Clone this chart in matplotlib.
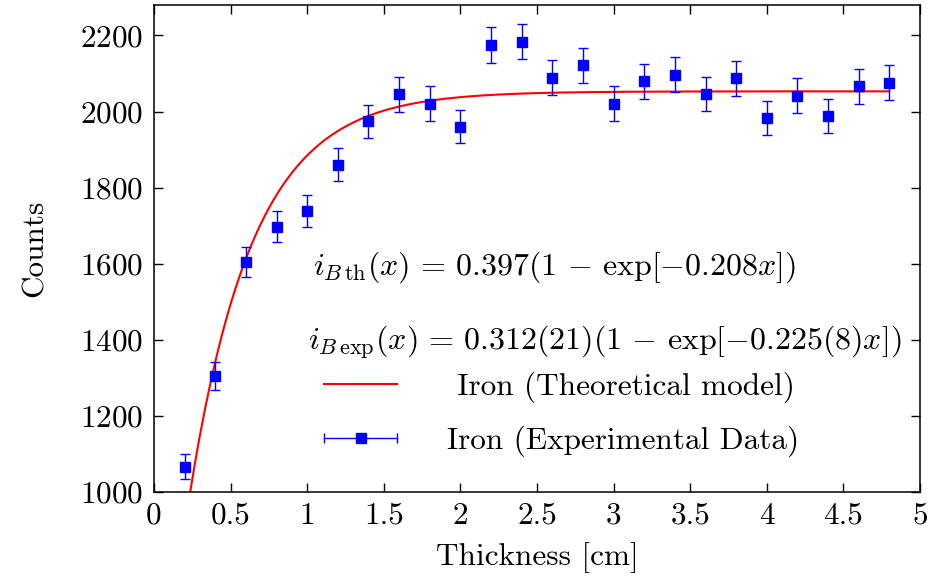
import numpy as np
import matplotlib
matplotlib.use("Agg")
import matplotlib.pyplot as plt
from matplotlib.lines import Line2D
from matplotlib.legend_handler import HandlerLine2D, HandlerTuple

plt.rcParams["font.family"] = ["cmr10", "DejaVu Serif"]
plt.rcParams["mathtext.fontset"] = "cm"
plt.rcParams["axes.formatter.use_mathtext"] = True

# measured data (Iron)
thickness = [0.2, 0.4, 0.6, 0.8, 1.0, 1.2, 1.4, 1.6, 1.8, 2.0, 2.2, 2.4,
             2.6, 2.8, 3.0, 3.2, 3.4, 3.6, 3.8, 4.0, 4.2, 4.4, 4.6, 4.8]
counts = [1066, 1305, 1605, 1697, 1739, 1860, 1974, 2045, 2021, 1960, 2174, 2184,
          2089, 2121, 2021, 2079, 2097, 2047, 2087, 1982, 2042, 1989, 2066, 2076]
count_err = [33, 36, 40, 41, 42, 43, 44, 45, 45, 44, 47, 47,
             46, 46, 45, 46, 46, 45, 46, 45, 45, 45, 45, 46]

# theoretical model parameters (saturation, amplitude, attenuation)
model_sat = 2053
model_amp = 1857
model_k = 2.4

eq_th = r"$i_{B\,\mathrm{th}}(x)\,=\,0.397(1\,-\,\exp[-0.208x])$"
eq_exp = r"$i_{B\,\mathrm{exp}}(x)\,=\,0.312(21)(1\,-\,\exp[-0.225(8)x])$"

FS = 22.5

fig = plt.figure(figsize=(9.35, 5.79), dpi=100)
ax = fig.add_axes([0.1647, 0.1503, 0.8193, 0.8411])

xm = np.linspace(0.0, 4.8, 400)
ym = model_sat - model_amp * np.exp(-model_k * xm)
ax.plot(xm, ym, color="red", lw=1.5, zorder=2)

ax.errorbar(thickness, counts, yerr=count_err, fmt="s", color="blue",
            ms=7.5, lw=1, capsize=3.3, capthick=1, zorder=3)

ax.set_xlim(0, 5)
ax.set_ylim(1000, 2280)
ax.set_xticks(np.arange(0, 5.01, 0.5))
ax.set_xticklabels(["0", "0.5", "1", "1.5", "2", "2.5", "3", "3.5", "4", "4.5", "5"])
ax.set_yticks(np.arange(1000, 2201, 200))

ax.tick_params(direction="in", top=True, right=True, length=6.5, width=1,
               labelsize=FS)
ax.tick_params(axis="y", pad=8)
ax.tick_params(axis="x", pad=7)
for sp in ax.spines.values():
    sp.set_linewidth(1.1)

ax.set_xlabel("Thickness [cm]", fontsize=FS, labelpad=9)
ax.set_ylabel("Counts", fontsize=FS, labelpad=22)

ax.text(0.2076, 0.462, eq_th, transform=ax.transAxes, fontsize=23, va="center")
ax.text(0.201, 0.308, eq_exp, transform=ax.transAxes, fontsize=23, va="center")

th_line = Line2D([], [], color="red", lw=1.5)
err_line = Line2D([], [], color="blue", lw=1, marker="|", ms=7, mew=1)
err_sq = Line2D([], [], color="blue", ls="none", marker="s", ms=7.5)
ax.legend([th_line, (err_line, err_sq)],
          [" Iron (Theoretical model)", "Iron (Experimental Data)"],
          handler_map={err_line: HandlerLine2D(numpoints=2, marker_pad=0),
                       err_sq: HandlerLine2D(numpoints=1),
                       tuple: HandlerTuple(ndivide=1)},
          loc="upper left", bbox_to_anchor=(0.222, 0.248), frameon=False,
          fontsize=FS, handlelength=2.34, handletextpad=1.6, labelspacing=0.74,
          borderpad=0, borderaxespad=0)

fig.savefig("out.png", dpi=100)
